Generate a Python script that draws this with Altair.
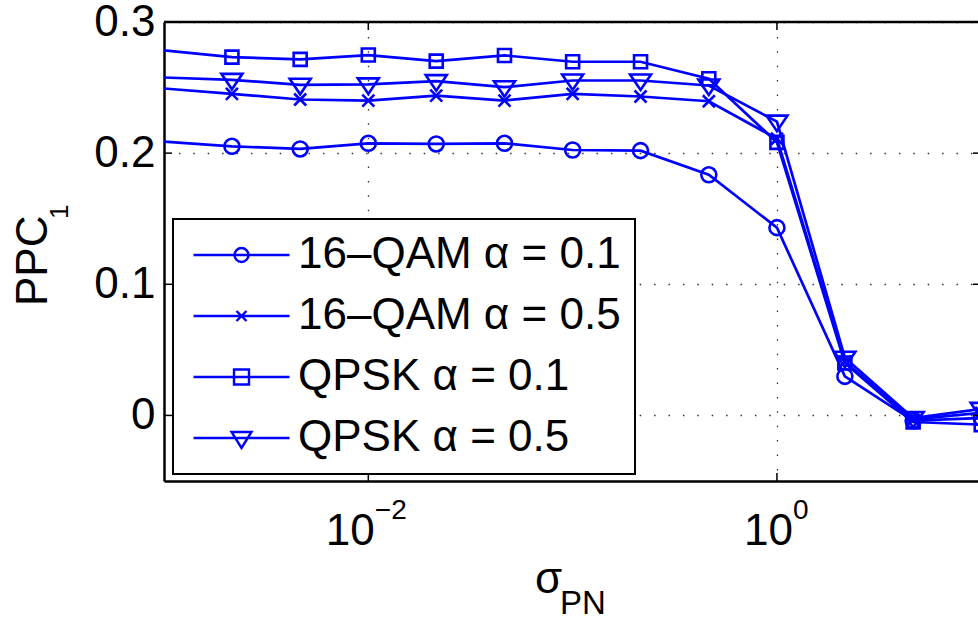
import altair as alt
import pandas as pd

# ---- data ----
sigma_pn = [0.000464, 0.00215, 0.00464, 0.01, 0.0215, 0.0464, 0.1,
            0.215, 0.464, 1.0, 2.15, 4.64, 10.0]
series_names = ["16–QAM α = 0.1", "16–QAM α = 0.5", "QPSK α = 0.1", "QPSK α = 0.5"]
qam16_a01 = [0.2124, 0.2052, 0.2032, 0.2075, 0.2070, 0.2075, 0.2024,
             0.2019, 0.1835, 0.1432, 0.0298, -0.004, -0.002]
qam16_a05 = [0.2534, 0.2452, 0.2409, 0.2401, 0.2439, 0.2401, 0.2452,
             0.2432, 0.2396, 0.2110, 0.0410, -0.003, 0.002]
qpsk_a01 = [0.2834, 0.2732, 0.2715, 0.2748, 0.2702, 0.2745, 0.2697,
            0.2697, 0.2567, 0.2082, 0.0400, -0.005, -0.007]
qpsk_a05 = [0.2595, 0.2559, 0.2521, 0.2524, 0.2549, 0.2503, 0.2554,
            0.2554, 0.2516, 0.2240, 0.0440, -0.002, 0.005]
y_tick_values = [0, 0.1, 0.2, 0.3]
y_grid_ticks = [0, 0.1, 0.2]
x_tick_values = [0.01, 1]
x_tick_exponents = ["−2", "0"]

all_values = [qam16_a01, qam16_a05, qpsk_a01, qpsk_a05]
rows = []
for name, vals in zip(series_names, all_values):
    for s, v in zip(sigma_pn, vals):
        rows.append({"series": name, "sigma": s, "ppc": v})
df = pd.DataFrame(rows)

# ---- layout ----
W, H = 814, 459
BLUE = "#0000ff"
FONT = "Liberation Sans"

xscale = alt.Scale(type="log", domain=[0.001, 9.64])
yscale = alt.Scale(domain=[-0.05, 0.3])

x_enc = alt.X("sigma:Q", scale=xscale,
              axis=alt.Axis(values=x_tick_values, labels=False, ticks=False, title=None,
                            grid=True, gridDash=[1.5, 12.9], gridColor="#333333",
                            gridWidth=1.3, domainColor="black", domainWidth=2.5))
y_enc = alt.Y("ppc:Q", scale=yscale,
              axis=alt.Axis(values=y_tick_values, ticks=False, title=None,
                            labelExpr="datum.value == 0 ? '0' : format(datum.value, '.1f')",
                            labelFont=FONT, labelFontSize=44, labelColor="black",
                            labelPadding=9,
                            grid=True, gridDash=[1.5, 12.9], gridColor="#333333",
                            gridWidth=1.3, domainColor="black", domainWidth=2.5))

marker_paths = [
    "M -0.75 0 A 0.75 0.75 0 1 1 0.75 0 A 0.75 0.75 0 1 1 -0.75 0 Z",
    "M -0.6 -0.6 L 0.6 0.6 M -0.6 0.6 L 0.6 -0.6",
    "M -0.65 -0.65 L 0.65 -0.65 L 0.65 0.65 L -0.65 0.65 Z",
    "M -1.05 -0.6 L 1.05 -0.6 L 0 0.95 Z",
]
legend_paths = [
    "M -1 0 L 1 0 M -0.146 0 A 0.146 0.146 0 1 1 0.146 0 A 0.146 0.146 0 1 1 -0.146 0 Z",
    "M -1 0 L 1 0 M -0.104 -0.104 L 0.104 0.104 M -0.104 0.104 L 0.104 -0.104",
    "M -1 0 L 1 0 M -0.156 -0.156 L 0.156 -0.156 L 0.156 0.156 L -0.156 0.156 Z",
    "M -1 0 L 1 0 M -0.208 -0.125 L 0.208 -0.125 L 0 0.208 Z",
]

base = alt.Chart(df)

lines = base.mark_line(clip=True, color=BLUE, strokeWidth=2.7).encode(
    x=x_enc, y=y_enc, detail="series:N")

points = base.mark_point(clip=True, filled=False, color=BLUE, strokeWidth=2.6,
                         size=400, opacity=1).encode(
    x=x_enc, y=y_enc,
    shape=alt.Shape("series:N", scale=alt.Scale(domain=series_names, range=marker_paths),
                    legend=None))

legend_layer = base.transform_filter(alt.datum.sigma < 0.001).mark_point(
    clip=True, filled=False, color=BLUE, strokeWidth=2.4, size=9216, opacity=1).encode(
    x=x_enc, y=y_enc,
    shape=alt.Shape("series:N", scale=alt.Scale(domain=series_names, range=legend_paths),
                    legend=alt.Legend(title=None, orient="none", legendX=9, legendY=197,
                                      direction="vertical",
                                      labelFont=FONT, labelFontSize=44, labelColor="black",
                                      labelLimit=1000, symbolSize=9216,
                                      symbolStrokeWidth=2.4, symbolStrokeColor=BLUE,
                                      symbolFillColor="transparent",
                                      symbolOffset=5, labelOffset=7, rowPadding=17,
                                      clipHeight=44,
                                      padding=14, strokeColor="black", fillColor="white")))

# frame top line and inward ticks
frame_df = pd.DataFrame({"ppc": [0.3]})
top_line = alt.Chart(frame_df).mark_rule(color="black", strokeWidth=2.5).encode(
    x=alt.value(0), x2=alt.value(W), y=alt.value(0))

ytick_df = pd.DataFrame({"ppc": y_grid_ticks})
ytick_left = alt.Chart(ytick_df).mark_rule(color="black", strokeWidth=1.5).encode(
    x=alt.value(0), x2=alt.value(8), y=y_enc)
ytick_right = alt.Chart(ytick_df).mark_rule(color="black", strokeWidth=1.5).encode(
    x=alt.value(809), x2=alt.value(818), y=y_enc)

xtick_df = pd.DataFrame({"sigma": x_tick_values, "exp": x_tick_exponents})
xtick_bottom = alt.Chart(xtick_df).mark_rule(color="black", strokeWidth=1.5).encode(
    x=x_enc, y=alt.value(H - 8), y2=alt.value(H))
xtick_top = alt.Chart(xtick_df).mark_rule(color="black", strokeWidth=1.5).encode(
    x=x_enc, y=alt.value(0), y2=alt.value(8))

# x tick labels 10^e
tick_label_layers = []
for val, shift in zip(x_tick_values, [6.5, 16]):
    sub = alt.Chart(xtick_df).transform_filter(alt.datum.sigma == val)
    tick_label_layers.append(sub.mark_text(text="10", align="right", baseline="alphabetic",
                                           dx=shift, font=FONT, fontSize=44, color="black").encode(
        x=x_enc, y=alt.value(523)))
    tick_label_layers.append(sub.mark_text(align="left", baseline="alphabetic", dx=shift,
                                           font=FONT, fontSize=28, color="black").encode(
        x=x_enc, y=alt.value(497), text="exp:N"))

# axis titles with sub-scripts
def label(txt, xv, yv, size, angle=0):
    c = alt.Chart(pd.DataFrame({"t": [txt]})).mark_text(
        align="left", baseline="alphabetic", font=FONT, fontSize=size, color="black",
        angle=angle)
    return c.encode(x=alt.value(xv), y=alt.value(yv), text="t:N")

titles = [
    label("σ", 371, 571, 44),
    label("PN", 396, 592, 33),
    label("PPC", -117, 284, 44, angle=270),
    label("1", -96, 197, 26, angle=270),
]

chart = alt.layer(
    lines, points, legend_layer, top_line, ytick_left, ytick_right,
    xtick_bottom, xtick_top, *tick_label_layers, *titles
).resolve_scale(shape="independent").properties(
    width=W, height=H,
    autosize=alt.AutoSizeParams(type="none"),
    padding={"left": 164, "top": 22, "right": 0, "bottom": 619 - 22 - H},
    background="white",
).configure_view(stroke=None).configure_legend(strokeWidth=2)

chart.save("out.html", embed_options={"renderer": "svg", "actions": False})
